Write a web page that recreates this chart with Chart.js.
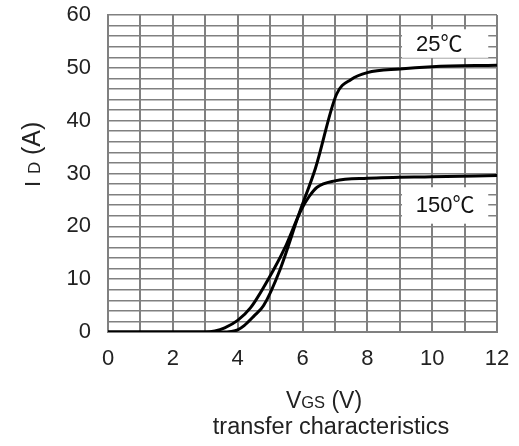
<!DOCTYPE html>
<html>
<head>
<meta charset="utf-8">
<script src="https://cdn.jsdelivr.net/npm/chart.js@4/dist/chart.umd.min.js"></script>
<style>
html,body{margin:0;padding:0;background:#fff;}
#wrap{width:519px;height:446px;position:relative;}
</style>
</head>
<body>
<div id="wrap"><canvas id="c" width="519" height="446"></canvas></div>
<script>
// ---- data ----
const vgs25  = [0, 3.5, 3.8, 4.0, 4.2, 4.5, 4.8, 5.3, 5.9, 6.4, 7.05, 7.5, 8.0, 9.0, 10.0, 12.0];
const id25   = [0, 0,   0.1, 0.4, 1.2, 3.0, 5.0, 11.7, 22.5, 31, 45, 47.8, 49.1, 49.8, 50.2, 50.5];
const vgs150 = [0, 3.0, 3.3, 3.6, 4.0, 4.4, 5.1, 5.5, 5.95, 6.2, 6.45, 7.0, 8.0, 10.0, 12.0];
const id150  = [0, 0,   0.2, 0.8, 2.2, 4.6, 11.7, 16.5, 23, 25.6, 27.4, 28.6, 29.1, 29.4, 29.6];
const curveLabels = ['25℃', '150℃'];
const xTickLabels = [0, 2, 4, 6, 8, 10, 12];
const yTickLabels = [0, 10, 20, 30, 40, 50, 60];
const xTitleMain = 'V', xTitleSub = 'GS', xTitleUnit = ' (V)';
const yTitleMain = 'I', yTitleSub = 'D', yTitleUnit = '(A)';
const chartCaption = 'transfer characteristics';

const toPts = (xs, ys) => xs.map((x, i) => ({x: x, y: ys[i]}));
const FONT = '"Liberation Sans", Arial, "Noto Sans CJK SC", sans-serif';
const TXT = '#222';

const overlay = {
  id: 'overlay',
  beforeDatasetsDraw(chart) {
    const {ctx, scales: {x, y}} = chart;
    const boxes = [
      {x0: 9.07, x1: 11.73, y0: 57.3, y1: 51.9, tx: 10.22, ty: 54.3, t: curveLabels[0]},
      {x0: 9.07, x1: 11.73, y0: 27.4, y1: 20.5, tx: 10.4, ty: 23.9, t: curveLabels[1]}
    ];
    ctx.save();
    boxes.forEach(b => {
      const px0 = x.getPixelForValue(b.x0), px1 = x.getPixelForValue(b.x1);
      const py0 = y.getPixelForValue(b.y0), py1 = y.getPixelForValue(b.y1);
      ctx.fillStyle = '#fff';
      ctx.fillRect(px0, py0, px1 - px0, py1 - py0);
      ctx.fillStyle = '#111';
      ctx.font = '22px ' + FONT;
      ctx.textAlign = 'center';
      ctx.textBaseline = 'middle';
      ctx.fillText(b.t, x.getPixelForValue(b.tx), y.getPixelForValue(b.ty));
    });
    ctx.restore();
  },
  afterDraw(chart) {
    const ctx = chart.ctx;
    ctx.save();
    ctx.textAlign = 'left';
    ctx.textBaseline = 'alphabetic';
    ctx.fillStyle = TXT;
    // x title: V_GS (V)
    const big = '23px ' + FONT, small = '16.5px ' + FONT;
    ctx.font = big; const w1 = ctx.measureText(xTitleMain).width;
    ctx.font = small; const w2 = ctx.measureText(xTitleSub).width;
    ctx.font = big; const w3 = ctx.measureText(xTitleUnit).width;
    let sx = 324 - (w1 + w2 + w3) / 2;
    ctx.font = big; ctx.fillText(xTitleMain, sx, 408); sx += w1;
    ctx.font = small; ctx.fillText(xTitleSub, sx, 408); sx += w2;
    ctx.font = big; ctx.fillText(xTitleUnit, sx, 408);
    // caption
    ctx.font = '23.5px ' + FONT;
    ctx.textAlign = 'center';
    ctx.fillText(chartCaption, 331, 434);
    ctx.restore();
    // y title: I_D (A), rotated
    ctx.save();
    ctx.translate(40, 187);
    ctx.rotate(-Math.PI / 2);
    ctx.textAlign = 'left';
    ctx.textBaseline = 'alphabetic';
    ctx.fillStyle = TXT;
    ctx.font = '22px ' + FONT; ctx.fillText(yTitleMain, 0, 0);
    ctx.font = '17px ' + FONT; ctx.fillText(yTitleSub, 13, 0);
    ctx.font = '25px ' + FONT; ctx.fillText(yTitleUnit, 32, 0);
    ctx.restore();
  }
};

new Chart(document.getElementById('c'), {
  type: 'line',
  data: {
    datasets: [
      {label: curveLabels[0], data: toPts(vgs25, id25), borderColor: '#000', borderWidth: 3,
       pointRadius: 0, fill: false, cubicInterpolationMode: 'monotone'},
      {label: curveLabels[1], data: toPts(vgs150, id150), borderColor: '#000', borderWidth: 3,
       pointRadius: 0, fill: false, cubicInterpolationMode: 'monotone'}
    ]
  },
  options: {
    responsive: false,
    animation: false,
    devicePixelRatio: 1,
    layout: {padding: {left: 0, right: 22, top: 15, bottom: 0}},
    plugins: {legend: {display: false}, tooltip: {enabled: false}, title: {display: false}},
    scales: {
      x: {
        type: 'linear', min: 0, max: 12,
        afterFit: s => { s.height = 114; s.paddingLeft = 0; s.paddingRight = 0; },
        ticks: {stepSize: 1, autoSkip: false, maxRotation: 0, padding: 14, color: TXT,
                font: {family: FONT, size: 22},
                callback: v => xTickLabels.includes(v) ? String(v) : ''},
        grid: {color: '#808080', lineWidth: 2, drawTicks: false},
        border: {color: '#808080', width: 2}
      },
      y: {
        type: 'linear', min: 0, max: 60,
        afterFit: s => { s.width = 108; s.paddingTop = 0; s.paddingBottom = 0; },
        ticks: {stepSize: 2, autoSkip: false, padding: 17, color: TXT,
                font: {family: FONT, size: 22},
                callback: v => yTickLabels.includes(v) ? String(v) : ''},
        grid: {color: '#808080', lineWidth: 1.5, drawTicks: false},
        border: {color: '#808080', width: 2}
      }
    }
  },
  plugins: [overlay]
});
</script>
</body>
</html>
